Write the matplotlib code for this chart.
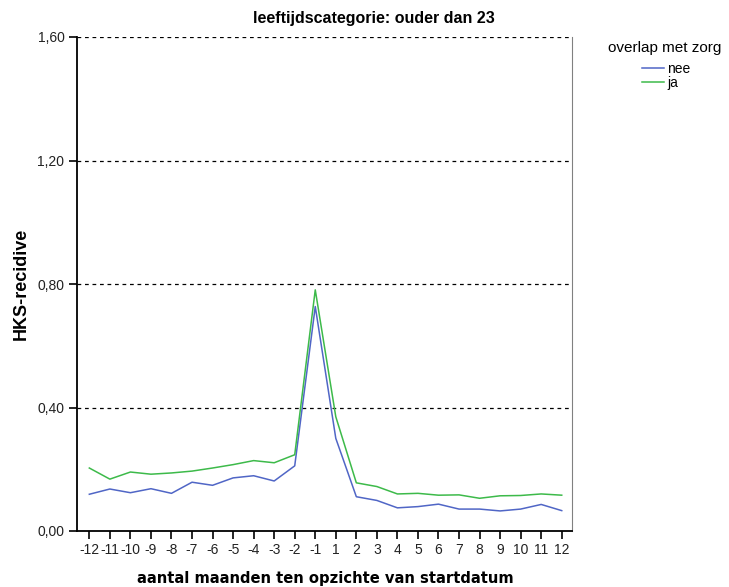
import numpy as np
import matplotlib.pyplot as plt

months = ['-12', '-11', '-10', '-9', '-8', '-7', '-6', '-5', '-4', '-3', '-2', '-1',
          '1', '2', '3', '4', '5', '6', '7', '8', '9', '10', '11', '12']
nee = [0.119, 0.136, 0.124, 0.137, 0.122, 0.158, 0.148, 0.172, 0.179, 0.162, 0.211, 0.727,
       0.300, 0.111, 0.099, 0.075, 0.079, 0.087, 0.071, 0.071, 0.065, 0.071, 0.086, 0.066]
ja = [0.204, 0.168, 0.191, 0.184, 0.188, 0.194, 0.204, 0.215, 0.228, 0.221, 0.247, 0.781,
      0.370, 0.156, 0.144, 0.120, 0.122, 0.116, 0.117, 0.106, 0.114, 0.115, 0.120, 0.116]
yticks = [0.0, 0.4, 0.8, 1.2, 1.6]
ytickLabels = ['0,00', '0,40', '0,80', '1,20', '1,60']


def main():
    plt.rcParams['font.family'] = ['Liberation Sans', 'DejaVu Sans']
    fig = plt.figure(figsize=(7.29, 5.87), dpi=100)
    ax = fig.add_axes([77 / 729, 56 / 587, 495 / 729, 494 / 587])

    x = np.arange(len(months))
    for y in yticks[1:]:
        ax.axhline(y, color='black', linewidth=0.9, linestyle=(0, (3, 3)), zorder=1)
    ax.plot(x, nee, color='#5066c6', linewidth=1.1, label='nee', zorder=3)
    ax.plot(x, ja, color='#3dba4a', linewidth=1.1, label='ja', zorder=3)

    ax.set_xlim(-0.6, len(months) - 0.5)
    ax.set_ylim(0, 1.6)
    ax.set_xticks(x)
    ax.set_xticklabels(months, fontsize=10, color='#222222')
    ax.set_yticks(yticks)
    ax.set_yticklabels(ytickLabels, fontsize=10, color='#222222')
    ax.tick_params(axis='both', length=6, width=1.2, color='black', pad=3)

    ax.spines['top'].set_visible(False)
    ax.spines['right'].set_color('#808080')
    ax.spines['left'].set_linewidth(1.3)
    ax.spines['bottom'].set_linewidth(1.3)

    # axis titles placed by hand, like the SPSS output
    fig.text(21 / 729, 1 - 284 / 587, 'HKS-recidive', fontweight='bold', fontsize=13,
             rotation=90, ha='center', va='center')
    fig.text(325 / 729, 1 - 583 / 587, 'aantal maanden ten opzichte van startdatum',
             family='DejaVu Sans', fontweight='bold', fontsize=10.6, ha='center', va='baseline')
    fig.text(374 / 729, 1 - 18 / 587, 'leeftijdscategorie: ouder dan 23', fontweight='bold',
             fontsize=11.5, ha='center', va='center')

    fig.text(665 / 729, 1 - 48 / 587, 'overlap met zorg', fontsize=11, ha='center', va='center')
    fig.legend(loc='upper center', bbox_to_anchor=(666 / 729, 1 - 55 / 587), frameon=False,
               fontsize=10, handlelength=1.65, handletextpad=0.2, labelspacing=0.0, borderpad=0)

    plt.savefig('out.png', dpi=100)


if __name__ == "__main__":
    main()
